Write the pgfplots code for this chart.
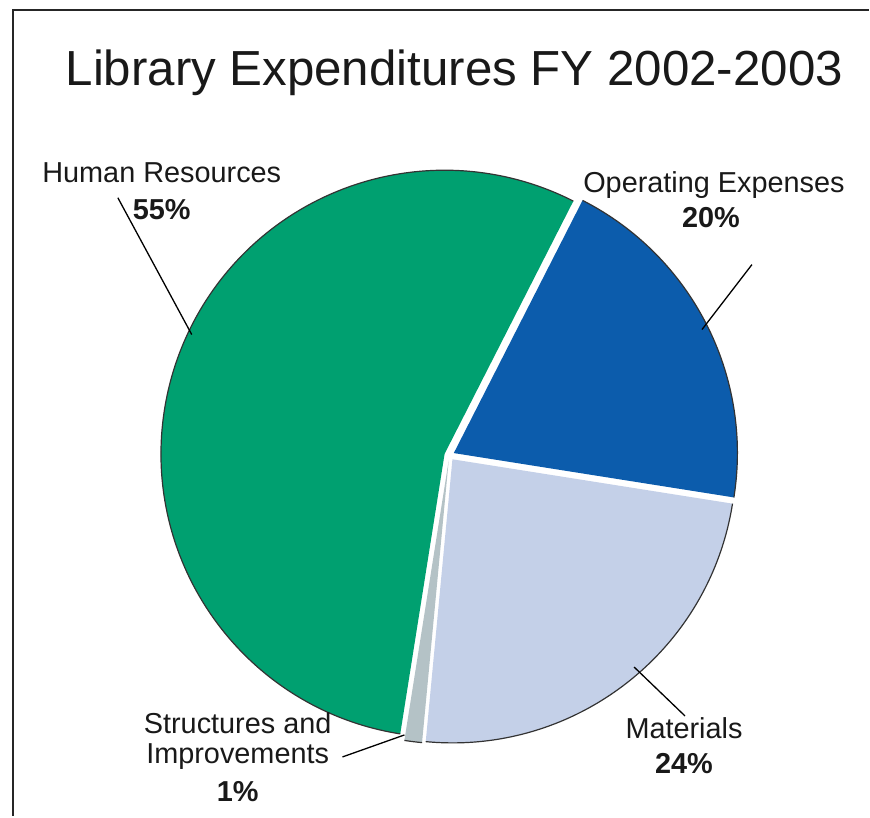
\documentclass[border=0pt]{standalone}
\usepackage{pgfplots}
\pgfplotsset{compat=1.18}
\usepackage{fontspec}
\setmainfont{Liberation Sans}

\definecolor{hrgreen}{RGB}{0,160,112}
\definecolor{opblue}{RGB}{12,92,172}
\definecolor{matblue}{RGB}{196,208,232}
\definecolor{strgray}{RGB}{180,194,198}

% pie centre (450,361), radius 284, first slice starts at 63 deg, clockwise
% #1 = cumulative percent before the slice, #2 = percent of the slice, #3 = colour
\newcommand{\pieslice}[3]{%
  \fill[#3] (axis cs:{450+5*cos(63-3.6*(#1+#2/2))},{361+5*sin(63-3.6*(#1+#2/2))})
    -- ++({63-3.6*#1}:284bp)
    arc[start angle={63-3.6*#1}, end angle={63-3.6*(#1+#2)}, radius=284bp] -- cycle;
  \draw[black!80, line width=1.2bp]
    (axis cs:{450+5*cos(63-3.6*(#1+#2/2))},{361+5*sin(63-3.6*(#1+#2/2))})
    ++({63-3.6*#1}:284bp)
    arc[start angle={63-3.6*#1}, end angle={63-3.6*(#1+#2)}, radius=284bp];
}

\begin{document}
\begin{tikzpicture}
\begin{axis}[
  width=870bp, height=817bp, scale only axis,
  xmin=0, xmax=870, ymin=0, ymax=817,
  hide axis, clip=false,
]
\path (axis cs:0,0) rectangle (axis cs:870,817);
% frame (top and left only)
\draw[black!85, line width=2.5bp] (axis cs:870,807) -- (axis cs:13,807) -- (axis cs:13,0);

% slices: Operating 20, Materials 24, Structures 1, Human Resources 55
\pieslice{0}{20}{opblue}
\pieslice{20}{24}{matblue}
\pieslice{44}{1}{strgray}
\pieslice{45}{55}{hrgreen}

% title
\node[anchor=base, font=\fontsize{49.5}{56}\selectfont, text=black!90] at (axis cs:455,731)
  {Library Expenditures FY 2002-2003};

% labels and leaders
\draw[black, line width=1.3bp] (axis cs:118,619) -- (axis cs:192,482);
\node[anchor=base, font=\fontsize{29}{32}\selectfont, text=black!90] at (axis cs:162,634) {Human Resources};
\node[anchor=base, font=\fontsize{29}{32}\selectfont\bfseries, text=black!90] at (axis cs:162,597) {55\%};

\draw[black, line width=1.3bp] (axis cs:753,552) -- (axis cs:703,487);
\node[anchor=base, font=\fontsize{29}{32}\selectfont, text=black!90] at (axis cs:715,624) {Operating Expenses};
\node[anchor=base, font=\fontsize{29}{32}\selectfont\bfseries, text=black!90] at (axis cs:712,589) {20\%};

\draw[black, line width=1.3bp] (axis cs:686,100) -- (axis cs:635,149);
\node[anchor=base, font=\fontsize{29}{32}\selectfont, text=black!90] at (axis cs:685,77) {Materials};
\node[anchor=base, font=\fontsize{29}{32}\selectfont\bfseries, text=black!90] at (axis cs:685,42) {24\%};

\draw[black, line width=1.3bp] (axis cs:343,59) -- (axis cs:405,81);
\node[anchor=base, font=\fontsize{29}{32}\selectfont, text=black!90] at (axis cs:238,82) {Structures and};
\node[anchor=base, font=\fontsize{29}{32}\selectfont, text=black!90] at (axis cs:238,52) {Improvements};
\node[anchor=base, font=\fontsize{29}{32}\selectfont\bfseries, text=black!90] at (axis cs:238,14) {1\%};
\end{axis}
\end{tikzpicture}
\end{document}
